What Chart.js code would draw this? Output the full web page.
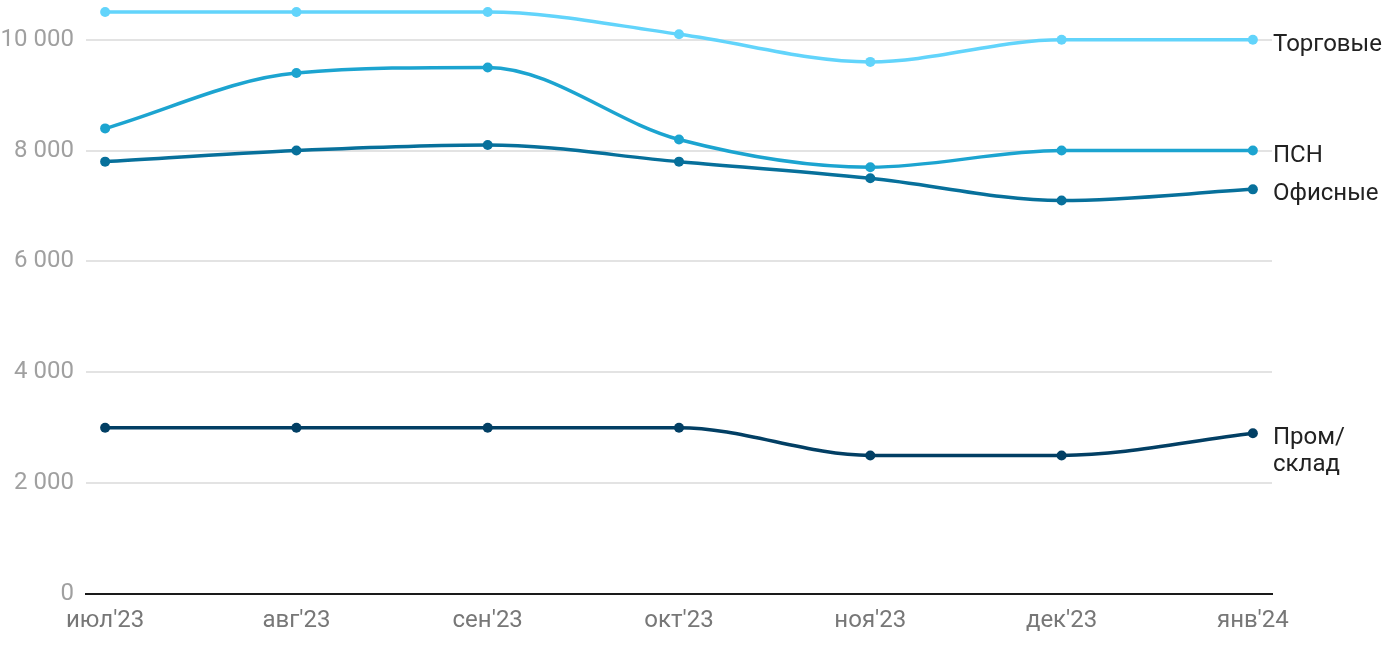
<!DOCTYPE html>
<html lang="ru">
<head>
    <meta charset="UTF-8">
    <title>Ставки по сегментам</title>
    <script src="https://cdn.jsdelivr.net/npm/chart.js"></script>
    <style>
        body { margin: 0; padding: 0; background: #fff; }
        .wrap { width: 1400px; height: 650px; position: relative; }
    </style>
</head>
<body>
    <div class="wrap"><canvas id="chart" width="1400" height="650"></canvas></div>

    <script>
        // Data
        const months = ["июл'23", "авг'23", "сен'23", "окт'23", "ноя'23", "дек'23", "янв'24"];
        const torgovye = [10500, 10500, 10500, 10100, 9600, 10000, 10000];
        const psn = [8400, 9400, 9500, 8200, 7700, 8000, 8000];
        const ofisnye = [7800, 8000, 8100, 7800, 7500, 7100, 7300];
        const promSklad = [3000, 3000, 3000, 3000, 2500, 2500, 2900];
        const yTicks = [0, 2000, 4000, 6000, 8000, 10000];

        const series = [
            { name: ["Торговые"], data: torgovye, color: "#62d4fb" },
            { name: ["ПСН"], data: psn, color: "#1ca4d0" },
            { name: ["Офисные"], data: ofisnye, color: "#07709b" },
            { name: ["Пром/", "склад"], data: promSklad, color: "#023f64" }
        ];

        const fontFamily = "Roboto, 'Liberation Sans', Arial, sans-serif";

        // Draw series names to the right of the last point
        const endLabels = {
            id: "endLabels",
            afterDatasetsDraw(chart) {
                const ctx = chart.ctx;
                ctx.save();
                ctx.font = "24px " + fontFamily;
                ctx.fillStyle = "#222";
                ctx.textAlign = "left";
                ctx.textBaseline = "middle";
                chart.data.datasets.forEach((ds, i) => {
                    const meta = chart.getDatasetMeta(i);
                    const pt = meta.data[meta.data.length - 1];
                    const lines = series[i].name;
                    lines.forEach((line, j) => {
                        ctx.fillText(line, chart.chartArea.right + 1, pt.y + 5 + j * 27);
                    });
                });
                ctx.restore();
            }
        };

        const ctx = document.getElementById("chart").getContext("2d");
        new Chart(ctx, {
            type: "line",
            data: {
                datasets: series.map(s => ({
                    label: s.name.join(""),
                    data: s.data.map((v, i) => ({ x: i, y: v })),
                    borderColor: s.color,
                    backgroundColor: s.color,
                    borderWidth: 3.5,
                    pointRadius: 5,
                    pointBorderWidth: 0,
                    pointHoverRadius: 5,
                    cubicInterpolationMode: "monotone",
                    clip: false,
                    fill: false
                }))
            },
            options: {
                responsive: false,
                animation: false,
                layout: { padding: { left: 0, right: 128, top: 12, bottom: 0 } },
                plugins: { legend: { display: false }, tooltip: { enabled: false } },
                scales: {
                    x: {
                        type: "linear",
                        min: -0.1,
                        max: 6.1,
                        afterBuildTicks: scale => {
                            scale.ticks = months.map((m, i) => ({ value: i }));
                        },
                        afterFit: scale => { scale.height = 56; },
                        ticks: {
                            callback: v => months[v],
                            color: "#777777",
                            font: { size: 24, family: fontFamily },
                            padding: 13,
                            maxRotation: 0,
                            autoSkip: false
                        },
                        grid: { display: false, drawTicks: false },
                        border: { display: true, color: "#1a1a1a", width: 2 }
                    },
                    y: {
                        min: 0,
                        max: 10500,
                        afterBuildTicks: scale => {
                            scale.ticks = yTicks.map(v => ({ value: v }));
                        },
                        afterFit: scale => {
                            scale.width = 86;
                            scale.paddingTop = 0;
                        },
                        ticks: {
                            callback: v => v.toLocaleString("ru-RU").replace(/\s/g, " "),
                            color: "#a0a0a0",
                            font: { size: 24, family: fontFamily },
                            padding: 12
                        },
                        grid: { color: "#e3e3e3", lineWidth: 2, drawTicks: false },
                        border: { display: false }
                    }
                }
            },
            plugins: [endLabels]
        });
    </script>
</body>
</html>
